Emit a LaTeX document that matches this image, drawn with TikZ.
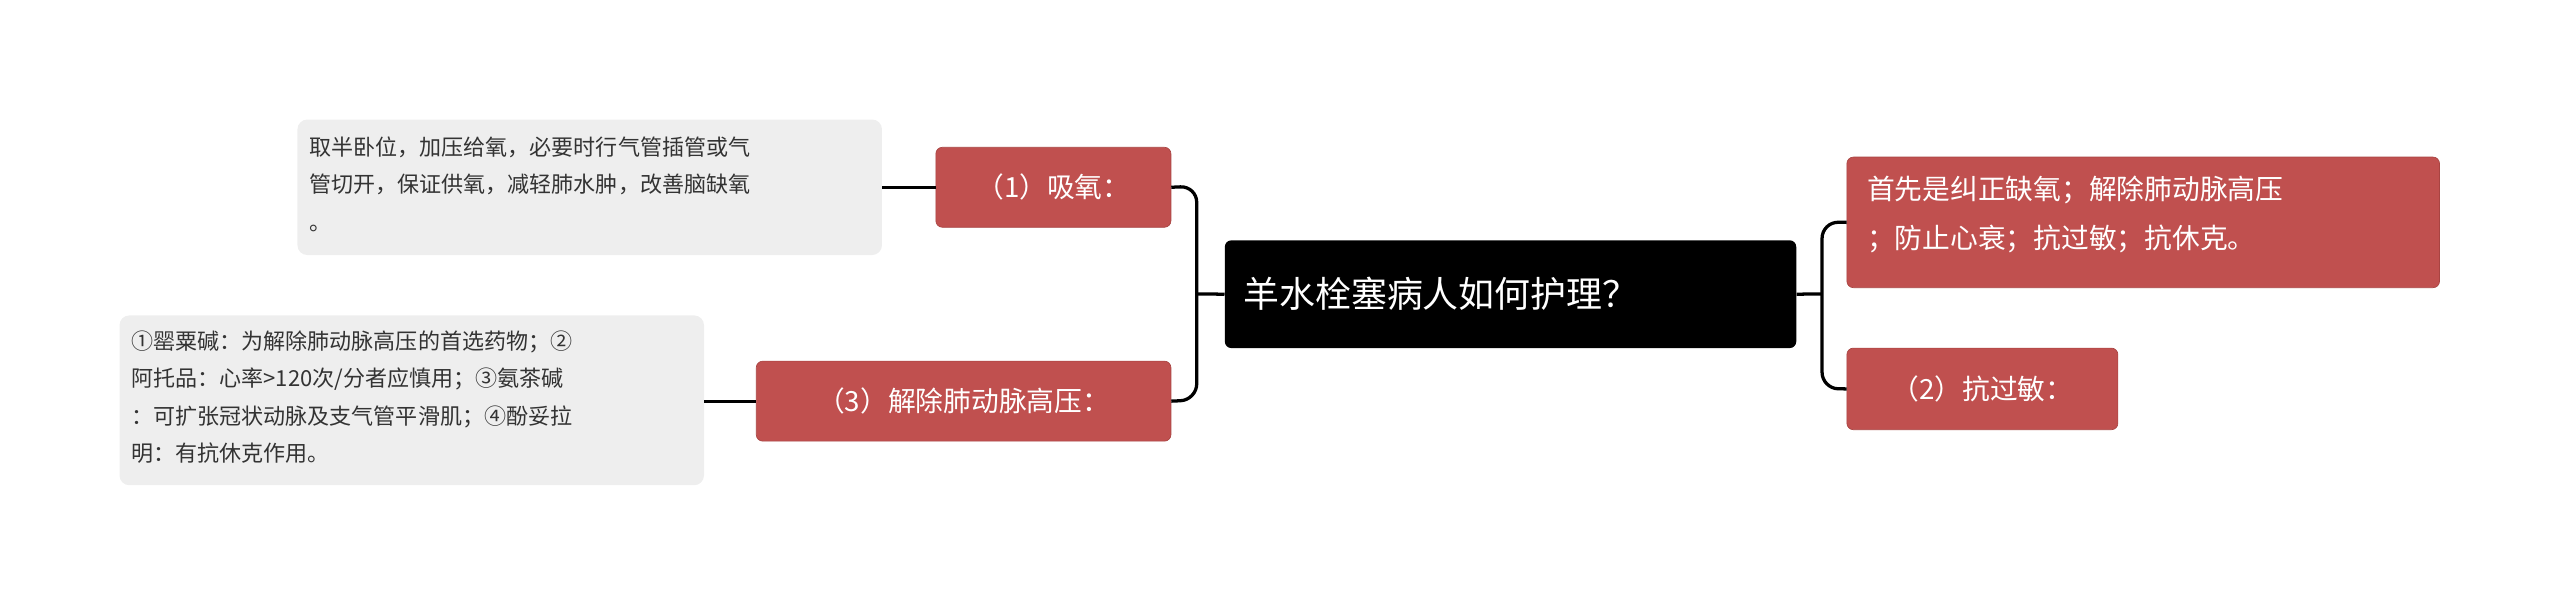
\documentclass[tikz,border=0pt]{standalone}
\usepackage{fontspec}
\setmainfont{Noto Sans CJK SC}
\begin{document}
\begin{tikzpicture}[x=1pt,y=-1pt,
  redbox/.style={fill=red!55!black!75!white, fill=rbcol, draw=rbdraw, rounded corners=4pt, text=white, font=\fontsize{17}{24}\selectfont, inner sep=0pt, anchor=north west},
  leaf/.style={fill=leafcol, rounded corners=6pt, text=black!80, font=\fontsize{13.5}{23}\selectfont, inner sep=0pt, anchor=north west, align=left},
  conn/.style={draw=black, line width=2pt, rounded corners=10pt}]
\definecolor{rbcol}{HTML}{C0504F}
\definecolor{rbdraw}{HTML}{A84442}
\definecolor{leafcol}{HTML}{EEEEEE}
\useasboundingbox (0,0) rectangle (1568,370);
% central
\node[fill=black, rounded corners=4pt, minimum width=350pt, minimum height=66pt, anchor=north west, inner sep=0pt] (c) at (750,147) {};
\node[text=white, font=\fontsize{22}{26}\selectfont, anchor=west] (ct) at (758,180) {羊水栓塞病人如何护理？};
% left red
\node[redbox, minimum width=144pt, minimum height=49pt] (l1) at (573,90) {};
\node[text=white, font=\fontsize{17}{20}\selectfont] at (l1.center) {（1）吸氧：};
\node[redbox, minimum width=254pt, minimum height=49pt] (l3) at (463,221) {};
\node[text=white, font=\fontsize{17}{20}\selectfont] at (l3.center) {（3）解除肺动脉高压：};
% right red
\node[redbox, minimum width=363pt, minimum height=80pt] (r1) at (1131,96) {};
\node[text=white, font=\fontsize{17}{30}\selectfont, align=left, anchor=north west] at (1140,104) {首先是纠正缺氧；解除肺动脉高压\\；防止心衰；抗过敏；抗休克。};
\node[redbox, minimum width=166pt, minimum height=50pt] (r2) at (1131,213) {};
\node[text=white, font=\fontsize{17}{20}\selectfont] at (r2.center) {（2）抗过敏：};
% leaves
\node[leaf, minimum width=358pt, minimum height=83pt] (f1) at (182,73) {};
\node[text=black!80, font=\fontsize{13.5}{23}\selectfont, align=left, anchor=north west] at (186,80) {取半卧位，加压给氧，必要时行气管插管或气\\管切开，保证供氧，减轻肺水肿，改善脑缺氧\\。};
\node[leaf, minimum width=358pt, minimum height=104pt] (f3) at (73,193) {};
\node[text=black!80, font=\fontsize{13.5}{23}\selectfont, align=left, anchor=north west] at (77,199) {①罂粟碱：为解除肺动脉高压的首选药物；②\\阿托品：心率>120次/分者应慎用；③氨茶碱\\：可扩张冠状动脉及支气管平滑肌；④酚妥拉\\明：有抗休克作用。};
% connectors
\draw[line width=2pt] (c.west) -- (733,180);
\draw[conn] (l1.east) -- (733,114) -- (733,245) -- (l3.east);
\draw[line width=2pt] (c.east) -- (1116,180);
\draw[conn] (r1.west) -- (1116,136) -- (1116,238) -- (r2.west);
\draw[line width=2pt] (f1.east |- l1.east) -- (l1.west);
\draw[line width=2pt] (f3.east |- l3.east) -- (l3.west);
\end{tikzpicture}
\end{document}
